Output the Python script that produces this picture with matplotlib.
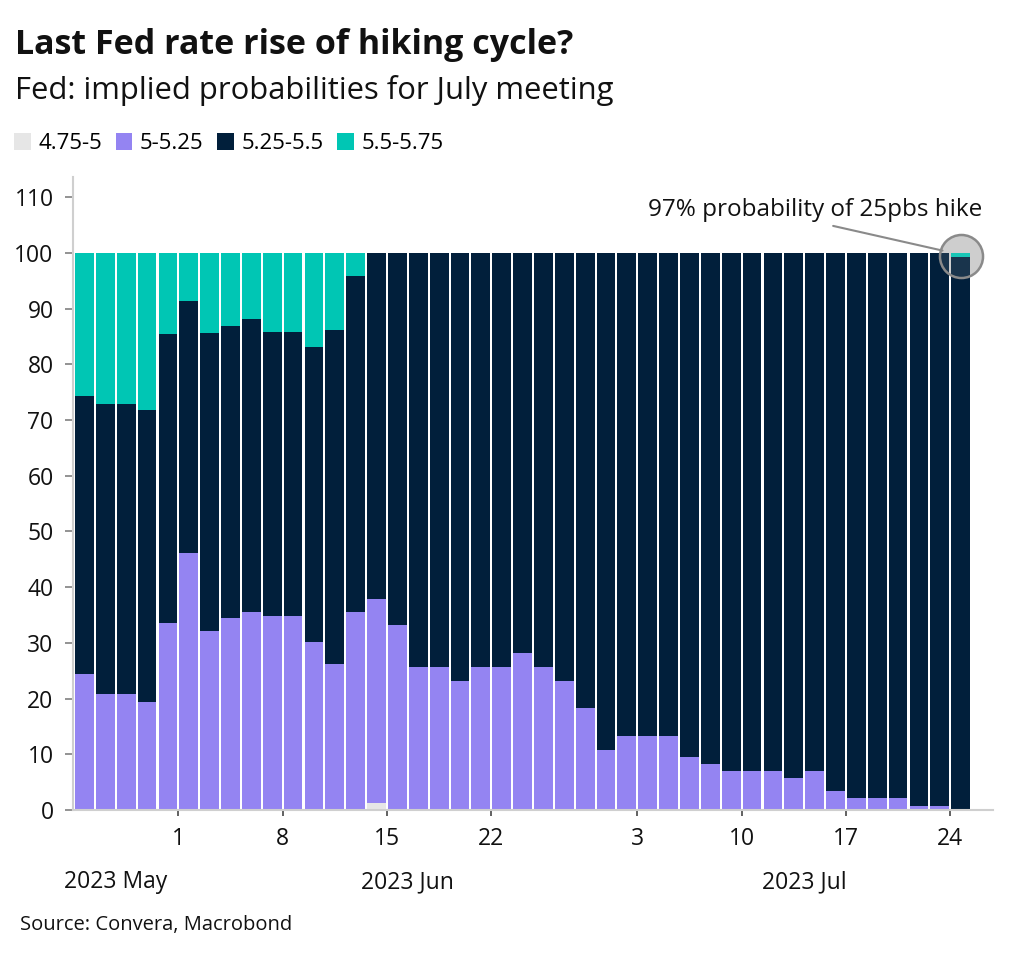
import matplotlib.pyplot as plt
import numpy as np
import pandas as pd

plt.rcParams['font.family'] = ['Open Sans', 'DejaVu Sans']

# business days shown on the chart
dates = pd.bdate_range('2023-05-25', '2023-07-24')

# implied probabilities (%) for each target range
p_475_500 = [0, 0, 0, 0, 0, 0, 0, 0, 0, 0, 0, 0, 0, 0, 1.2, 0, 0, 0, 0, 0, 0, 0,
             0, 0, 0, 0, 0, 0, 0, 0, 0, 0, 0, 0, 0, 0, 0, 0, 0, 0, 0, 0, 0]
p_500_525 = [24.4, 20.8, 20.8, 19.4, 33.5, 46.1, 32.2, 34.5, 35.6, 34.8, 34.8,
             30.2, 26.2, 35.5, 36.6, 33.2, 25.6, 25.6, 23.2, 25.6, 25.6, 28.1,
             25.6, 23.2, 18.3, 10.8, 13.3, 13.3, 13.3, 9.5, 8.3, 7.0, 7.0, 7.0,
             5.8, 7.0, 3.4, 2.1, 2.1, 2.1, 0.8, 0.8, 0.0]
p_525_550 = [49.9, 52.0, 52.0, 52.4, 52.0, 45.2, 53.4, 52.4, 52.6, 51.0, 51.0,
             52.9, 60.0, 60.4, 62.2, 66.8, 74.4, 74.4, 76.8, 74.4, 74.4, 71.9,
             74.4, 76.8, 81.7, 89.2, 86.7, 86.7, 86.7, 90.5, 91.7, 93.0, 93.0,
             93.0, 94.2, 93.0, 96.6, 97.9, 97.9, 97.9, 99.2, 99.2, 99.3]
p_550_575 = [25.7, 27.2, 27.2, 28.2, 14.5, 8.7, 14.4, 13.1, 11.8, 14.2, 14.2,
             16.9, 13.8, 4.1, 0, 0, 0, 0, 0, 0, 0, 0, 0, 0, 0, 0, 0, 0, 0, 0,
             0, 0, 0, 0, 0, 0, 0, 0, 0, 0, 0, 0, 0.7]

series = [('4.75-5', p_475_500, '#E6E6E6'),
          ('5-5.25', p_500_525, '#9484F2'),
          ('5.25-5.5', p_525_550, '#011F3B'),
          ('5.5-5.75', p_550_575, '#00C6B4')]

tick_dates = pd.to_datetime(['2023-06-01', '2023-06-08', '2023-06-15', '2023-06-22',
                             '2023-07-03', '2023-07-10', '2023-07-17', '2023-07-24'])

fig = plt.figure(figsize=(10.24, 9.58), dpi=100)
ax = fig.add_axes([0.0713, 0.1545, 0.8984, 0.6607])

x = np.arange(len(dates))
bottom = np.zeros(len(dates))
handles = []
for name, vals, col in series:
    vals = np.array(vals, dtype=float)
    b = ax.bar(x + 0.5, vals, width=0.9, bottom=bottom, color=col, label=name,
               linewidth=0, zorder=2)
    bottom += vals
    handles.append(b)

ax.set_xlim(-0.05, 44.05)
ax.set_ylim(0, 113.6)
ax.set_yticks(np.arange(0, 111, 10))

# x ticks at the left edge of each tick date's bar
pos = [dates.get_loc(d) for d in tick_dates]
ax.set_xticks(pos)
ax.set_xticklabels([str(d.day) for d in tick_dates])

for s in ['top', 'right']:
    ax.spines[s].set_visible(False)
for s in ['left', 'bottom']:
    ax.spines[s].set_color('#cfcfcf')
    ax.spines[s].set_linewidth(1.5)
ax.tick_params(axis='y', length=6, width=1.3, color='#8a8a8a', pad=8,
               labelsize=16.5, labelcolor='#111111')
ax.tick_params(axis='x', length=4.5, width=1.3, color='#555555', pad=8,
               labelsize=16.5, labelcolor='#111111')

# month labels centred on each month's span
months = dates.to_period('M')
for m in months.unique():
    idx = np.where(months == m)[0]
    start = idx[0] if idx[0] > 0 else -1
    centre = (start + idx[-1] + 1) / 2
    ax.annotate(m.strftime('%Y %b'), xy=(centre, 0), xycoords=('data', 'axes fraction'),
                xytext=(0, -72), textcoords='offset pixels', fontsize=16.5,
                ha='center', va='center', color='#111111', annotation_clip=False)

# highlight last observation
last = len(dates) - 1
ax.plot([last + 0.5], [99.5], marker='o', ms=31, mfc='#cfcfcf', mec='none',
        clip_on=False, zorder=1)
ax.plot([last + 0.5], [99.5], marker='o', ms=31, mfc=(0.8, 0.8, 0.8, 0.12),
        mec='#8a8a8a', mew=1.8, clip_on=False, zorder=5)
ax.annotate('97% probability of 25pbs hike', xy=(41.63, 100.4), xytext=(43.55, 107.7),
            ha='right', va='center', fontsize=17.5, color='#111111',
            arrowprops=dict(arrowstyle='-', color='#8a8a8a', lw=1.5,
                            relpos=(0.5, 0), shrinkA=4, shrinkB=0),
            annotation_clip=False, zorder=6)

fig.text(0.0146, 0.953, 'Last Fed rate rise of hiking cycle?', fontsize=24.5,
         fontweight='bold', va='center', color='#111111')
fig.text(0.0146, 0.906, 'Fed: implied probabilities for July meeting', fontsize=22.3,
         va='center', color='#111111')
fig.legend(handles=handles, loc='center left', bbox_to_anchor=(0.005, 0.850),
           ncol=4, frameon=False, fontsize=16, handlelength=0.75,
           handleheight=0.75, handletextpad=0.35, columnspacing=0.6,
           borderaxespad=0)
fig.text(0.0195, 0.034, 'Source: Convera, Macrobond', fontsize=14.5,
         va='center', color='#111111')

fig.savefig('out.png', dpi=100)
